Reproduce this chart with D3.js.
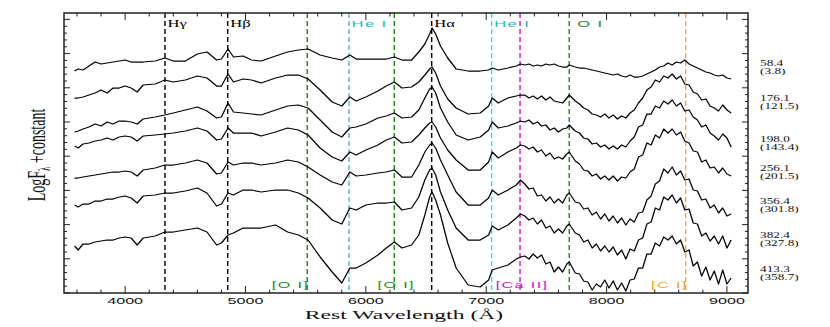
<!DOCTYPE html>
<html lang="en">
<head>
<meta charset="UTF-8">
<title>Spectral sequence</title>
<script src="https://d3js.org/d3.v7.min.js"></script>
<style>
  body { margin: 0; background: #fff; }
  svg { display: block; }
</style>
</head>
<body>
<div id="chart"></div>
<script>
// rest wavelength grid (A) shared by all epochs
const wave = [3580,3610,3650,3700,3750,3800,3850,3900,3950,4000,4050,
  4100,4150,4250,4330,
  4400,4500,4600,4680,4760,4800,4855,4900,4980,5050,
  5130,5250,5350,5440,5520,5620,5720,5800,5867,5920,
  6000,6100,6170,6237,6300,6380,6440,6490,6530,6550,
  6580,6620,6680,6750,6850,6950,7020,7050,7100,7180,
  7250,7285,
  7320,7355,7390,7425,7460,7495,7530,7565,7600,7635,
  7670,7690,7740,7775,7810,7845,7880,7915,7950,7985,
  8020,8055,8090,8125,8160,8195,8230,8265,8300,8335,
  8370,8405,8440,8475,8510,8545,8580,8615,8650,8685,
  8720,8755,8790,8825,8860,8895,8930,8965,9000,9035];

// log F + constant (arbitrary units), top to bottom
const spec1 = [222,224,223,227,231,229,230,231,232,233,231,
  231,231,232,235,
  232,232,239,241,233,234,244,236,237,233,
  232,237,241,243,244,238,235,233,238,234,
  234,234,234,236,233,233,241,249,259,265,
  259,247,235,224,222,222,223,225,223,225,
  227,229,
  228,229,227,228,227,229,228,229,227,226,
  226,228,226,225,225,224,223,222,221,220,
  219,218,219,217,216,218,216,216,217,219,
  221,223,226,227,230,228,231,230,233,229,
  227,225,223,221,220,218,217,218,215,214];
const spec2 = [195,195,196,198,200,203,200,205,205,207,205,
  201,208,209,213,
  211,213,217,215,207,207,219,211,214,213,
  210,215,218,218,214,203,191,187,196,192,
  196,202,207,211,205,206,211,218,224,226,
  220,207,194,185,179,180,187,195,190,195,
  197,198,
  198,195,197,194,197,193,196,192,191,190,
  195,198,192,189,185,183,179,178,176,179,
  175,178,174,177,175,180,183,190,195,203,
  206,213,211,217,215,219,214,217,209,208,
  201,199,193,194,187,185,182,188,183,180];
const spec3 = [161,162,164,166,169,167,171,169,172,172,171,
  169,174,176,178,
  180,183,186,182,175,176,190,181,180,179,
  178,183,187,188,185,173,161,156,165,166,
  169,175,177,180,175,176,183,195,204,206,
  200,185,171,158,153,156,163,171,165,167,
  170,172,
  171,173,169,171,167,168,163,165,161,164,
  165,168,162,160,155,154,149,150,146,148,
  144,147,144,148,146,152,156,166,168,179,
  179,187,185,192,189,193,187,190,182,183,
  176,173,166,168,160,157,153,159,155,146];
const spec4 = [147,145,149,150,152,153,155,153,156,157,156,
  152,157,158,159,
  160,162,165,162,153,154,165,160,160,160,
  157,161,165,163,158,145,136,132,141,138,
  143,148,153,156,150,151,158,165,170,171,
  166,155,143,133,123,123,131,141,135,141,
  145,148,
  147,144,146,141,143,137,140,134,136,134,
  139,141,132,129,123,122,117,119,114,117,
  113,117,112,116,115,121,124,136,138,150,
  148,158,155,164,160,164,158,161,152,150,
  142,141,131,133,125,126,120,125,119,117];
const spec5 = [115,115,116,117,118,119,120,121,121,122,121,
  117,123,125,128,
  128,130,133,130,119,120,131,128,130,130,
  128,130,133,131,126,118,111,108,121,117,
  118,120,121,123,116,116,128,141,148,150,
  145,133,118,101,88,88,95,103,98,103,
  108,113,
  109,104,105,97,98,92,96,90,94,90,
  98,100,91,90,84,85,78,81,74,79,
  72,77,70,75,68,74,71,80,81,93,
  97,109,112,124,120,126,118,122,113,114,
  103,102,93,94,85,88,80,85,77,79];
const spec6 = [88,86,89,89,92,92,94,94,96,97,95,
  90,97,98,100,
  100,102,105,100,87,89,100,98,103,103,
  101,103,103,100,95,85,73,69,85,83,
  88,90,90,91,83,85,96,113,123,125,
  118,101,83,65,53,53,58,67,63,68,
  75,79,
  77,73,75,69,73,65,67,60,64,60,
  67,69,60,58,51,53,45,49,42,47,
  41,46,38,43,34,44,42,53,55,69,
  71,85,83,96,93,98,90,95,83,84,
  70,69,57,60,52,57,49,57,45,53];
const spec7 = [47,43,49,49,51,52,53,53,55,56,55,
  48,55,57,61,
  61,63,65,61,48,50,58,60,65,65,
  65,68,61,58,53,36,21,10,25,25,
  30,38,45,51,45,48,58,78,96,101,
  93,78,50,25,8,6,13,23,25,28,
  34,36,
  37,34,39,35,38,29,31,21,26,21,
  29,31,20,19,12,11,3,9,6,13,
  5,12,3,10,2,13,14,25,25,39,
  39,50,47,56,53,57,49,53,41,43,
  27,31,17,26,13,22,9,23,9,15];
const spectra = [spec1, spec2, spec3, spec4, spec5, spec6, spec7];

// epoch labels on the right
const epochs = ["58.4", "176.1", "198.0", "256.1", "356.4", "382.4", "413.3"];
const phases = ["(3.8)", "(121.5)", "(143.4)", "(201.5)", "(301.8)", "(327.8)", "(358.7)"];
const epochLevel = [227, 192, 151, 122, 89, 55, 21];

// marked lines
const lineWave  = [4331, 4852, 5513, 5860, 6236, 6547, 7045, 7281, 7690, 8657];
const lineColor = ["#000", "#000", "#1a8c1a", "#3cc4d4", "#1a8c1a", "#000", "#19e6f0", "#d010d0", "#1a8c1a", "#f5a623"];
const topLabel  = ["H\u03b3", "H\u03b2", "", "He I", "", "H\u03b1", "He I", "", "O I", ""];
const botLabel  = ["", "", "[O I]", "", "[O I]", "", "", "[Ca II]", "", "[C I]"];
const labelColor = ["#000", "#000", "#1a8c1a", "#1fb8c6", "#1a8c1a", "#000", "#1fb8c6", "#d010d0", "#1a8c1a", "#f5a623"];

const xMajor = [4000, 5000, 6000, 7000, 8000, 9000];
const yMajor = [0, 34.2, 68.4, 102.6, 136.8, 171, 205.2, 239.4, 273.6];

const W = 830, H = 327;
const SX = 1.75; // horizontal stretch of the lettering

const x = d3.scaleLinear().domain([3492, 9175]).range([64, 748]);
const y = d3.scaleLinear().domain([0, 280]).range([293, 13]);

const svg = d3.select("#chart").append("svg")
  .attr("width", W).attr("height", H);

function stretched(sel, px, py) {
  return sel.attr("transform", `translate(${px},${py}) scale(${SX},1)`);
}

// dashed identification lines
lineWave.forEach((w, i) => {
  svg.append("line")
    .attr("x1", x(w)).attr("x2", x(w))
    .attr("y1", y(280)).attr("y2", y(0))
    .attr("stroke", lineColor[i])
    .attr("stroke-width", 1.4)
    .attr("stroke-dasharray", "5,3");
});

// spectra
const line = d3.line()
  .x((d, i) => x(wave[i]))
  .y(d => y(d));

svg.selectAll("path.spec")
  .data(spectra)
  .enter()
  .append("path")
  .attr("class", "spec")
  .attr("d", line)
  .attr("fill", "none")
  .attr("stroke", "#000")
  .attr("stroke-width", 1.25)
  .attr("stroke-linejoin", "round");

// frame and ticks
const frame = svg.append("g").attr("stroke", "#222").attr("fill", "none");
frame.append("rect")
  .attr("x", x.range()[0]).attr("y", y(280))
  .attr("width", x.range()[1] - x.range()[0])
  .attr("height", y(0) - y(280))
  .attr("stroke-width", 1.5);

const xMinor = d3.range(3600, 9175, 200).filter(v => !xMajor.includes(v));
[[xMajor, 7], [xMinor, 3.5]].forEach(([vals, len]) => {
  vals.forEach(v => {
    frame.append("line").attr("x1", x(v)).attr("x2", x(v))
      .attr("y1", y(0)).attr("y2", y(0) - len).attr("stroke-width", 1);
    frame.append("line").attr("x1", x(v)).attr("x2", x(v))
      .attr("y1", y(280)).attr("y2", y(280) + len).attr("stroke-width", 1);
  });
});

const yMinor = d3.range(0, 280, 6.84).filter(v => !yMajor.some(m => Math.abs(m - v) < 0.5));
[[yMajor, 6], [yMinor, 3]].forEach(([vals, len]) => {
  vals.forEach(v => {
    frame.append("line").attr("x1", x.range()[0]).attr("x2", x.range()[0] + len)
      .attr("y1", y(v)).attr("y2", y(v)).attr("stroke-width", 1);
    frame.append("line").attr("x1", x.range()[1]).attr("x2", x.range()[1] - len)
      .attr("y1", y(v)).attr("y2", y(v)).attr("stroke-width", 1);
  });
});

// tick labels
xMajor.forEach(v => {
  stretched(svg.append("text"), x(v), 303.5)
    .attr("text-anchor", "middle")
    .attr("font-family", "Liberation Sans, Arial, sans-serif")
    .attr("font-size", 9.2)
    .attr("fill", "#111")
    .text(v);
});

// line labels
lineWave.forEach((w, i) => {
  const t = topLabel[i];
  if (t) {
    const serif = t[0] === "H" && t !== "He I";
    const dx = t === "O I" ? 8 : 2.5;
    stretched(svg.append("text"), x(w) + dx, 26.5)
      .attr("font-family", serif ? "Liberation Serif, serif" : "Liberation Sans, Arial, sans-serif")
      .attr("font-size", 9.5)
      .attr("letter-spacing", serif ? 0 : 0.8)
      .attr("fill", labelColor[i])
      .text(t);
  }
  const b = botLabel[i];
  if (b) {
    const anchor = (w < 5600 || w > 8500) ? "end" : "middle";
    stretched(svg.append("text"), x(w) + 2, 288)
      .attr("text-anchor", anchor)
      .attr("font-family", "Liberation Sans, Arial, sans-serif")
      .attr("font-size", 9.2)
      .attr("letter-spacing", 0.8)
      .attr("fill", labelColor[i])
      .text(b);
  }
});

// epoch labels
epochs.forEach((e, i) => {
  const g = svg.append("g")
    .attr("font-family", "Liberation Serif, serif")
    .attr("font-size", 7.6)
    .attr("fill", "#111");
  stretched(g.append("text"), 760, y(epochLevel[i])).text(e);
  stretched(g.append("text"), 760, y(epochLevel[i]) + 8).text(phases[i]);
});

// axis titles
stretched(svg.append("text"), 404, 319)
  .attr("text-anchor", "middle")
  .attr("font-family", "Liberation Serif, serif")
  .attr("font-size", 13.5)
  .attr("fill", "#111")
  .text("Rest Wavelength (\u00c5)");

const yt = svg.append("text")
  .attr("transform", `translate(45,155) scale(${SX},1) rotate(-90)`)
  .attr("text-anchor", "middle")
  .attr("font-family", "Liberation Serif, serif")
  .attr("font-size", 14)
  .attr("fill", "#111");
yt.append("tspan").text("LogF");
yt.append("tspan").attr("font-size", 9).attr("dy", 3).text("\u03bb");
yt.append("tspan").attr("dy", -3).text(" +constant");
</script>
</body>
</html>
